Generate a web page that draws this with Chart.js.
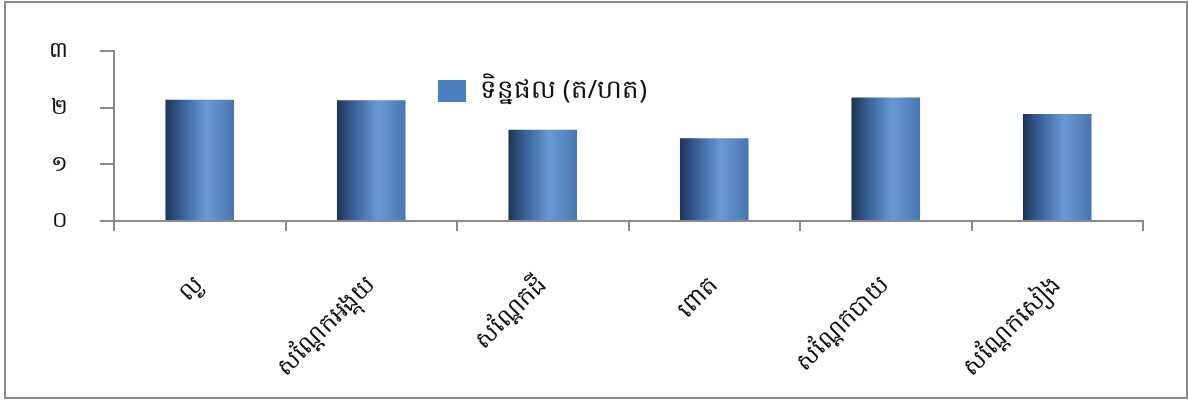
<!DOCTYPE html>
<html>
<head>
<meta charset="utf-8">
<script src="https://cdn.jsdelivr.net/npm/chart.js@4.4.0/dist/chart.umd.min.js"></script>
<style>
  html, body { margin: 0; padding: 0; background: #fff; }
  #wrap { width: 1189px; height: 400px; position: relative; }
</style>
</head>
<body>
<div id="wrap"><canvas id="chart" width="1189" height="400"></canvas></div>
<script>
// data
const categories = ['ល្ង', 'សណ្តែកអង្គុយ', 'សណ្តែកដី', 'ពោត', 'សណ្តែកបាយ', 'សណ្តែកសៀង'];
const yieldValues = [2.14, 2.13, 1.61, 1.46, 2.18, 1.89];
const yTickLabels = ['០', '១', '២', '៣'];
const seriesName = 'ទិន្នផល (ត/ហត)';

const FONT = '"Khmer OS", "Noto Sans", "DejaVu Sans", sans-serif';
const AXIS_GREY = '#8a8a8a';

//horizontal shading across each bar, like a cylinder
const barShade = (ctx) => {
  const chart = ctx.chart;
  const xScale = chart.scales.x;
  if (!xScale || ctx.dataIndex === undefined) return '#4f81bd';
  const cx = xScale.getPixelForValue(ctx.dataIndex);
  if (!isFinite(cx)) return '#4f81bd';
  const half = 34;
  const g = chart.ctx.createLinearGradient(cx - half, 0, cx + half, 0);
  g.addColorStop(0, '#1d3555');
  g.addColorStop(0.25, '#3a629a');
  g.addColorStop(0.6, '#6899d6');
  g.addColorStop(1, '#4a76b0');
  return g;
};

//outer frame and legend drawn by hand
const framePlugin = {
  id: 'frame',
  afterDraw(chart) {
    const c = chart.ctx;
    c.save();
    c.strokeStyle = '#8c8c8c';
    c.lineWidth = 2;
    c.strokeRect(5, 2, 1182, 396);

    c.fillStyle = '#4a7fc0';
    c.fillRect(438, 80, 28, 22);
    c.fillStyle = '#111';
    c.font = '26px ' + FONT;
    c.textBaseline = 'middle';
    c.textAlign = 'left';
    c.fillText(seriesName, 480, 91);
    c.restore();
  }
};

new Chart(document.getElementById('chart'), {
  type: 'bar',
  data: {
    labels: categories,
    datasets: [{
      label: seriesName,
      data: yieldValues,
      backgroundColor: barShade,
      borderWidth: 0,
      barPercentage: 0.8,
      categoryPercentage: 0.5
    }]
  },
  options: {
    responsive: false,
    animation: false,
    layout: { padding: { left: 0, top: 51, right: 46, bottom: 0 } },
    plugins: {
      legend: { display: false },
      tooltip: { enabled: false }
    },
    scales: {
      x: {
        afterFit: (axis) => { axis.height = 179; },
        border: { display: true, color: AXIS_GREY, width: 2 },
        grid: {
          display: true,
          drawOnChartArea: false,
          drawTicks: true,
          tickLength: 10,
          offset: true,
          color: AXIS_GREY,
          lineWidth: 2
        },
        ticks: {
          autoSkip: false,
          minRotation: 45,
          maxRotation: 45,
          padding: 40,
          color: '#111',
          font: { family: FONT, size: 24 }
        }
      },
      y: {
        min: 0,
        max: 3,
        afterFit: (axis) => { axis.width = 114; },
        border: { display: true, color: AXIS_GREY, width: 2 },
        grid: {
          display: true,
          drawOnChartArea: false,
          drawTicks: true,
          tickLength: 14,
          color: AXIS_GREY,
          lineWidth: 2
        },
        ticks: {
          stepSize: 1,
          padding: 32,
          color: '#111',
          font: { family: FONT, size: 22 },
          callback: (value) => yTickLabels[value]
        }
      }
    }
  },
  plugins: [framePlugin]
});
</script>
</body>
</html>
